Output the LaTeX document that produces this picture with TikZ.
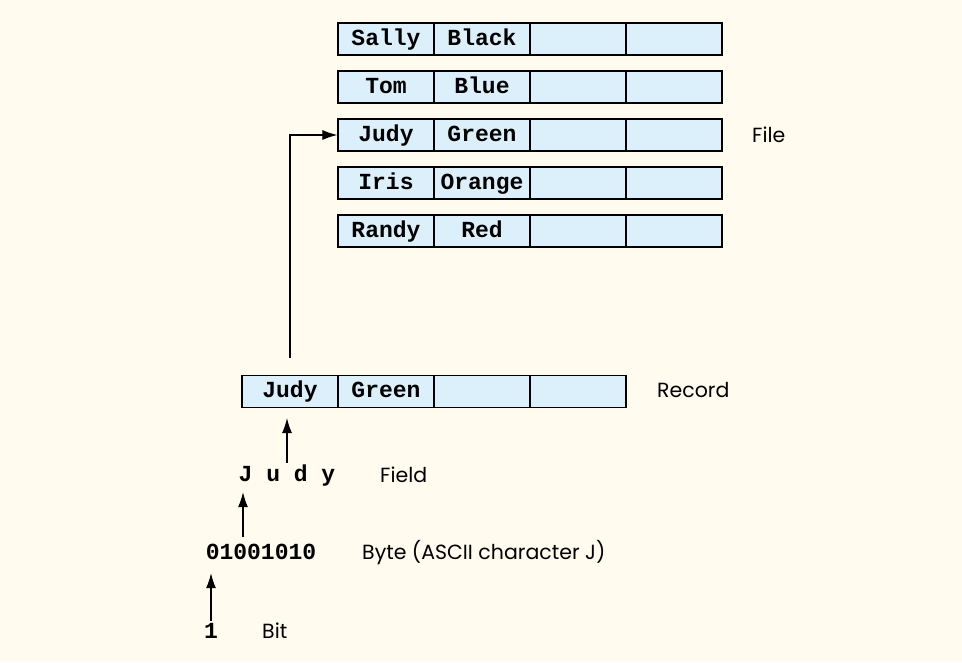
\documentclass[tikz,border=0pt]{standalone}
\usepackage{fontspec}
\setmainfont{Poppins}
\setmonofont{Liberation Mono}
\usetikzlibrary{arrows.meta,positioning}
\definecolor{paper}{HTML}{FFFBEE}
\definecolor{cellblue}{HTML}{DCF0FB}
\tikzset{
  cell/.style={draw, fill=cellblue, line width=1.2pt, minimum width=96pt,
    minimum height=32pt, inner sep=0pt, text height=15pt, text depth=3pt,
    font=\fontsize{23}{26}\selectfont\ttfamily\bfseries},
  code/.style={anchor=base, inner sep=0pt, text height=14pt, text depth=0pt,
    font=\fontsize{23}{26}\selectfont\ttfamily\bfseries},
  lbl/.style={anchor=base west, inner sep=0pt, font=\fontsize{20.5}{24}\selectfont},
  arr/.style={-{Latex[length=15pt,width=10pt]}, line width=1.1pt},
}
\begin{document}
\begin{tikzpicture}[x=1pt, y=-1pt]
  \useasboundingbox[fill=paper] (0,0) rectangle (962,662);
  % the file: five records
  \foreach \who/\hue [count=\i] in {Sally/Black, Tom/Blue, Judy/Green, Iris/Orange, Randy/Red} {
    \pgfmathsetmacro\yy{39+48*(\i-1)}
    \node[cell] (row\i-1) at (386,\yy) {\who};
    \node[cell] (row\i-2) at (482,\yy) {\hue};
    \node[cell] (row\i-3) at (578,\yy) {};
    \node[cell] (row\i-4) at (674,\yy) {};
  }
  \node[lbl] (filelbl) at (752,142) {File};
  % one record
  \node[cell] (rec-1) at (290,391.5) {Judy};
  \node[cell] (rec-2) at (386,391.5) {Green};
  \node[cell] (rec-3) at (482,391.5) {};
  \node[cell] (rec-4) at (578,391.5) {};
  \node[lbl] (reclbl) at (657,397) {Record};
  % field, byte, bit
  \node[code] (field) at (287,481) {J u d y};
  \node[lbl] (fieldlbl) at (380,482) {Field};
  \node[code] (byte) at (261,559) {01001010};
  \node[lbl] (bytelbl) at (362,559) {Byte (ASCII character J)};
  \node[code] (bit) at (211,638) {1};
  \node[lbl] (bitlbl) at (262,638) {Bit};
  \coordinate (jpos) at (243,0);
  % arrows
  \draw[arr, shorten <=17pt] (rec-1.north) |- (row3-1.west);
  \draw[arr, shorten <=4pt, shorten >=10pt] (field.north) -- (field.north |- rec-1.south);
  \draw[arr, shorten <=8pt, shorten >=11pt] (byte.north -| jpos) -- (field.south -| jpos);
  \draw[arr, shorten <=3pt, shorten >=14pt] (bit.north) -- (bit.north |- byte.south);
\end{tikzpicture}
\end{document}
